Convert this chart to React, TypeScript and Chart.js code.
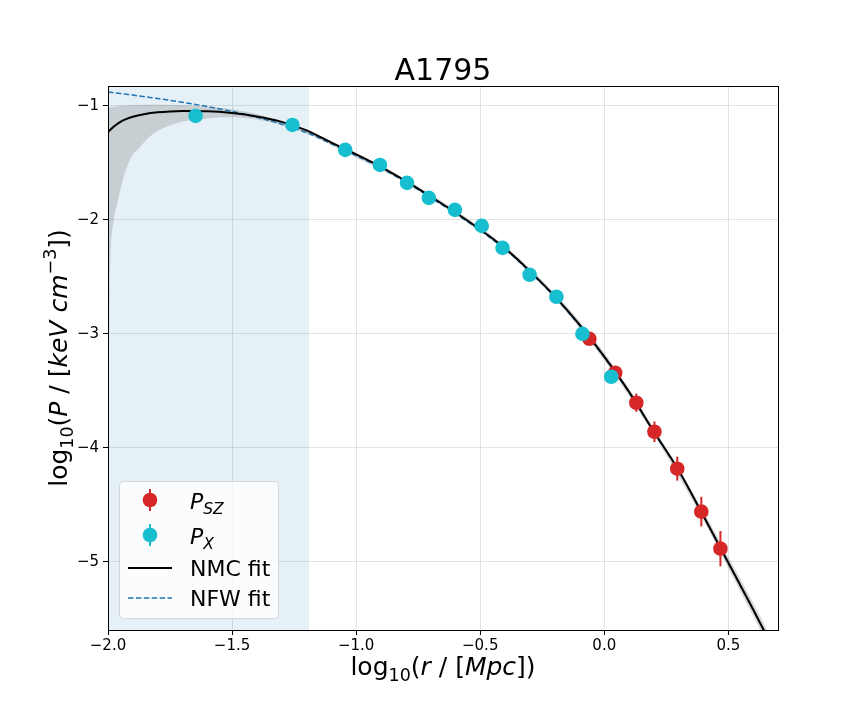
import React, { useEffect, useRef } from 'react';
import { Chart, registerables } from 'chart.js';
Chart.register(...registerables);

// ---- data ----
const xTicks = [-2.0, -1.5, -1.0, -0.5, 0.0, 0.5];
const yTicks = [-5, -4, -3, -2, -1];
const xRange = [-2.0, 0.7];
const yRange = [-5.6, -0.825];
const spanRange = [-2.0, -1.19];

// P_X (cyan)
const pxR = [-1.647, -1.257, -1.044, -0.904, -0.795, -0.707, -0.602, -0.494, -0.41, -0.301, -0.193, -0.088, 0.028];
const pxP = [-1.088, -1.167, -1.386, -1.518, -1.675, -1.807, -1.912, -2.053, -2.246, -2.482, -2.675, -3.0, -3.377];

// P_SZ (red)
const szR = [-0.06, 0.044, 0.129, 0.202, 0.294, 0.391, 0.468];
const szP = [-3.044, -3.342, -3.605, -3.86, -4.184, -4.561, -4.886];
const szErr = [0.04, 0.05, 0.08, 0.09, 0.105, 0.13, 0.155];

// NMC fit & NFW fit
const fitR = [-2.0, -1.975, -1.95, -1.925, -1.9, -1.85, -1.8, -1.75, -1.7, -1.6, -1.5, -1.4, -1.3, -1.2, -1.1, -1.0, -0.9, -0.8, -0.7, -0.6, -0.5, -0.4, -0.3, -0.2, -0.1, 0.0, 0.1, 0.2, 0.3, 0.4, 0.5, 0.6, 0.68];
const nmcP = [-1.228, -1.178, -1.14, -1.114, -1.095, -1.07, -1.056, -1.048, -1.045, -1.047, -1.062, -1.092, -1.14, -1.215, -1.322, -1.425, -1.535, -1.66, -1.795, -1.935, -2.085, -2.25, -2.45, -2.67, -2.92, -3.2, -3.51, -3.86, -4.2, -4.6, -5.01, -5.42, -5.76];
const nfwP = [-0.878, -0.884, -0.891, -0.898, -0.905, -0.92, -0.935, -0.951, -0.968, -1.005, -1.048, -1.1, -1.16, -1.235, -1.332, -1.437, -1.545, -1.67, -1.805, -1.945, -2.093, -2.258, -2.457, -2.677, -2.927, -3.207, -3.515, -3.865, -4.205, -4.605, -5.015, -5.425, -5.765];

// uncertainty band
const bandR = [-2.0, -1.997, -1.993, -1.976, -1.962, -1.944, -1.923, -1.895, -1.882, -1.855, -1.815, -1.747, -1.68, -1.613, -1.532, -1.45, -1.35, -1.25, -1.15, -1.0, -0.8, -0.6, -0.4, -0.2, 0.0, 0.2, 0.4, 0.5, 0.6, 0.68];
const bandLo = [-5.8, -3.5, -2.61, -2.0, -1.85, -1.68, -1.53, -1.41, -1.386, -1.32, -1.24, -1.167, -1.129, -1.114, -1.1, -1.105, -1.14, -1.2, -1.29, -1.455, -1.675, -1.95, -2.27, -2.695, -3.235, -3.89, -4.64, -5.06, -5.48, -5.82];
const bandHi = [-1.02, -1.018, -1.015, -1.008, -1.003, -0.998, -0.995, -0.992, -0.991, -0.99, -0.99, -0.99, -0.995, -1.006, -1.022, -1.047, -1.1, -1.17, -1.26, -1.41, -1.645, -1.915, -2.23, -2.645, -3.165, -3.83, -4.56, -4.96, -5.36, -5.7];

const RED = '#d62728';
const CYAN = '#17becf';
const BLUE = '#1f77b4';
const FONT = '"DejaVu Sans", sans-serif';

const pts = (xs: number[], ys: number[]) => xs.map((x, i) => ({ x, y: ys[i] }));
const minus = (s: string) => s.replace('-', '\u2212');

type Seg = { t: string; it?: boolean; s?: number; dy?: number };
function drawRich(ctx: CanvasRenderingContext2D, segs: Seg[], x: number, y: number, base: number, align: 'center' | 'left') {
  const f = (s: number, it?: boolean) => `${it ? 'italic ' : ''}${s}px ${FONT}`;
  let w = 0;
  for (const sg of segs) { ctx.font = f(sg.s ?? base, sg.it); w += ctx.measureText(sg.t).width; }
  let cx = align === 'center' ? x - w / 2 : x;
  ctx.textAlign = 'left';
  ctx.textBaseline = 'alphabetic';
  for (const sg of segs) {
    ctx.font = f(sg.s ?? base, sg.it);
    ctx.fillText(sg.t, cx, y + (sg.dy ?? 0));
    cx += ctx.measureText(sg.t).width;
  }
}

const spanPlugin = {
  id: 'span',
  beforeDatasetsDraw(chart: any) {
    const { ctx, chartArea, scales } = chart;
    const x0 = scales.x.getPixelForValue(spanRange[0]);
    const x1 = scales.x.getPixelForValue(spanRange[1]);
    ctx.save();
    ctx.fillStyle = 'rgba(31,119,180,0.11)';
    ctx.fillRect(x0, chartArea.top, x1 - x0, chartArea.bottom - chartArea.top);
    ctx.restore();
  },
};

const errPlugin = {
  id: 'errbars',
  beforeDatasetDraw(chart: any, args: any) {
    if (chart.data.datasets[args.index].label !== 'PSZ') return;
    const { ctx, scales, chartArea } = chart;
    ctx.save();
    ctx.beginPath();
    ctx.rect(chartArea.left, chartArea.top, chartArea.right - chartArea.left, chartArea.bottom - chartArea.top);
    ctx.clip();
    ctx.strokeStyle = RED;
    ctx.lineWidth = 2;
    szR.forEach((r, i) => {
      const x = scales.x.getPixelForValue(r);
      ctx.beginPath();
      ctx.moveTo(x, scales.y.getPixelForValue(szP[i] - szErr[i]));
      ctx.lineTo(x, scales.y.getPixelForValue(szP[i] + szErr[i]));
      ctx.stroke();
    });
    ctx.restore();
  },
};

const decoPlugin = {
  id: 'deco',
  afterDraw(chart: any) {
    const { ctx, chartArea: a } = chart;
    ctx.save();
    // frame
    ctx.strokeStyle = '#000';
    ctx.lineWidth = 1;
    ctx.strokeRect(Math.round(a.left) + 0.5, Math.round(a.top) + 0.5, Math.round(a.right - a.left), Math.round(a.bottom - a.top));
    ctx.fillStyle = '#000';
    // title
    ctx.font = `30px ${FONT}`;
    ctx.textAlign = 'center';
    ctx.textBaseline = 'alphabetic';
    ctx.fillText('A1795', (a.left + a.right) / 2, 80);
    // x label
    drawRich(ctx, [
      { t: 'log' }, { t: '10', s: 17.5, dy: 6 }, { t: '(' }, { t: 'r', it: true }, { t: ' / [' },
      { t: 'Mpc', it: true }, { t: '])' },
    ], (a.left + a.right) / 2, 675, 25, 'center');
    // y label
    ctx.save();
    ctx.translate(67, (a.top + a.bottom) / 2);
    ctx.rotate(-Math.PI / 2);
    drawRich(ctx, [
      { t: 'log' }, { t: '10', s: 17.5, dy: 6 }, { t: '(' }, { t: 'P', it: true }, { t: ' / [' },
      { t: 'keV', it: true }, { t: ' ' }, { t: 'cm', it: true }, { t: '\u22123', s: 17.5, dy: -11 }, { t: '])' },
    ], 0, 0, 25, 'center');
    ctx.restore();
    // legend
    const lx = 119.5, ly = 481.5, lw = 159, lh = 137, rr = 4;
    ctx.beginPath();
    ctx.moveTo(lx + rr, ly);
    ctx.arcTo(lx + lw, ly, lx + lw, ly + lh, rr);
    ctx.arcTo(lx + lw, ly + lh, lx, ly + lh, rr);
    ctx.arcTo(lx, ly + lh, lx, ly, rr);
    ctx.arcTo(lx, ly, lx + lw, ly, rr);
    ctx.closePath();
    ctx.fillStyle = 'rgba(255,255,255,0.8)';
    ctx.fill();
    ctx.strokeStyle = 'rgba(204,204,204,0.8)';
    ctx.lineWidth = 1;
    ctx.stroke();
    const rows = [500, 535, 568, 598];
    const mx = 150;
    // markers
    [[RED, rows[0]], [CYAN, rows[1]]].forEach(([c, y]: any) => {
      ctx.strokeStyle = c;
      ctx.lineWidth = 2;
      ctx.beginPath();
      ctx.moveTo(mx, y - 11);
      ctx.lineTo(mx, y + 11);
      ctx.stroke();
      ctx.fillStyle = c;
      ctx.beginPath();
      ctx.arc(mx, y, 7.3, 0, Math.PI * 2);
      ctx.fill();
    });
    ctx.strokeStyle = '#000';
    ctx.lineWidth = 2;
    ctx.beginPath();
    ctx.moveTo(128, rows[2]);
    ctx.lineTo(172, rows[2]);
    ctx.stroke();
    ctx.strokeStyle = BLUE;
    ctx.lineWidth = 1.5;
    ctx.setLineDash([5.5, 2.4]);
    ctx.beginPath();
    ctx.moveTo(128, rows[3]);
    ctx.lineTo(172, rows[3]);
    ctx.stroke();
    ctx.setLineDash([]);
    ctx.fillStyle = '#000';
    const tx = 190;
    drawRich(ctx, [{ t: 'P', it: true }, { t: 'SZ', it: true, s: 15.5, dy: 5 }], tx, rows[0] + 9, 22, 'left');
    drawRich(ctx, [{ t: 'P', it: true }, { t: 'X', it: true, s: 15.5, dy: 5 }], tx, rows[1] + 9, 22, 'left');
    drawRich(ctx, [{ t: 'NMC fit' }], tx, rows[2] + 8, 22, 'left');
    drawRich(ctx, [{ t: 'NFW fit' }], tx, rows[3] + 8, 22, 'left');
    ctx.restore();
  },
};

export default function App() {
  const ref = useRef<HTMLCanvasElement>(null);
  useEffect(() => {
    if (!ref.current) return;
    const chart = new Chart(ref.current, {
      type: 'scatter',
      data: {
        datasets: [
          {
            label: 'PX', data: pts(pxR, pxP), backgroundColor: CYAN, borderColor: CYAN,
            pointRadius: 7.3, pointBorderWidth: 0, showLine: false, order: 0,
          },
          {
            label: 'PSZ', data: pts(szR, szP), backgroundColor: RED, borderColor: RED,
            pointRadius: 7.3, pointBorderWidth: 0, showLine: false, order: 1,
          },
          {
            label: 'NMC', data: pts(fitR, nmcP), borderColor: '#000', borderWidth: 2, pointRadius: 0,
            showLine: true, cubicInterpolationMode: 'monotone', order: 2,
          },
          {
            label: 'NFW', data: pts(fitR, nfwP), borderColor: BLUE, borderWidth: 1.5, borderDash: [5.5, 2.4],
            pointRadius: 0, showLine: true, cubicInterpolationMode: 'monotone', order: 3,
          },
          {
            label: 'bandHi', data: pts(bandR, bandHi), borderWidth: 0, borderColor: 'rgba(0,0,0,0)', pointRadius: 0,
            showLine: true, fill: false, cubicInterpolationMode: 'monotone', order: 4,
          },
          {
            label: 'bandLo', data: pts(bandR, bandLo), borderWidth: 0, borderColor: 'rgba(0,0,0,0)', pointRadius: 0,
            showLine: true, fill: '-1', cubicInterpolationMode: 'monotone', backgroundColor: 'rgba(128,128,128,0.3)', order: 5,
          },
        ],
      } as any,
      options: {
        animation: false,
        responsive: false,
        events: [],
        layout: { padding: { top: 86, right: 86, left: 0, bottom: 0 } },
        plugins: { legend: { display: false }, tooltip: { enabled: false }, title: { display: false } },
        scales: {
          x: {
            type: 'linear', min: xRange[0], max: xRange[1],
            afterFit: (s: any) => { s.height = 90; },
            afterBuildTicks: (s: any) => { s.ticks = xTicks.map((v) => ({ value: v })); },
            ticks: {
              color: '#000', font: { family: FONT, size: 15 }, padding: 2,
              callback: (v: any) => minus(Number(v).toFixed(1)),
            },
            grid: { color: 'rgba(176,176,176,0.35)', lineWidth: 1, tickLength: 5, tickColor: '#000', tickWidth: 1 },
            border: { display: true, color: '#000' },
          },
          y: {
            type: 'linear', min: yRange[0], max: yRange[1],
            afterFit: (s: any) => { s.width = 108; },
            afterBuildTicks: (s: any) => { s.ticks = yTicks.map((v) => ({ value: v })); },
            ticks: {
              color: '#000', font: { family: FONT, size: 15 }, padding: 4,
              callback: (v: any) => minus(String(v)),
            },
            grid: { color: 'rgba(176,176,176,0.35)', lineWidth: 1, tickLength: 5, tickColor: '#000', tickWidth: 1 },
            border: { display: true, color: '#000' },
          },
        },
      } as any,
      plugins: [spanPlugin, errPlugin, decoPlugin],
    });
    return () => chart.destroy();
  }, []);
  return (
    <div style={{ position: 'fixed', left: 0, top: 0, width: 864, height: 720, background: '#fff' }}>
      <canvas ref={ref} width={864} height={720} style={{ width: 864, height: 720, display: 'block' }} />
    </div>
  );
}
